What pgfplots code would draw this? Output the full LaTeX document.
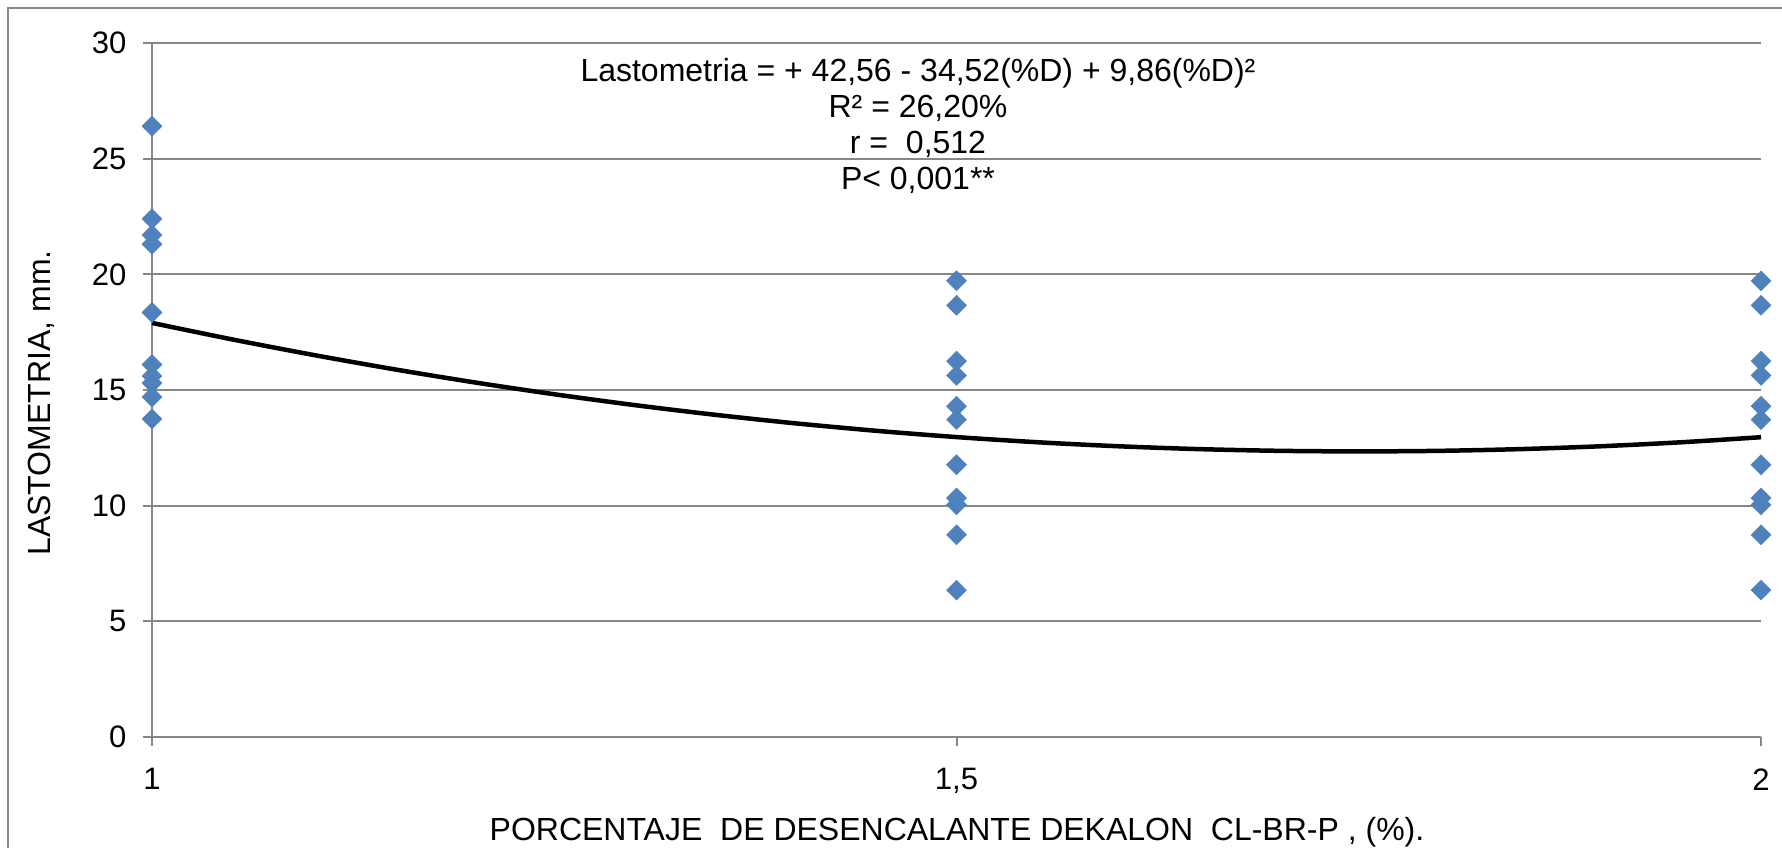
\documentclass[border=0pt]{standalone}
\usepackage{pgfplots}
\pgfplotsset{compat=1.18}
\usepackage{fontspec}
\setmainfont{Liberation Sans}
\definecolor{ptblue}{HTML}{4F81BD}
\definecolor{linegray}{HTML}{878787}

\begin{document}
\begin{tikzpicture}[x=1pt,y=1pt]
\path[use as bounding box] (0,0) rectangle (1782,847);
% chart area frame
\draw[linegray, line width=2pt] (8,-20) -- (8,839) -- (1800,839);
\begin{axis}[
  at={(152pt,110pt)}, anchor=south west,
  scale only axis, width=1609pt, height=694pt,
  xmin=1, xmax=2, ymin=0, ymax=30,
  xtick={1,1.5,2}, xticklabels={1,{1,5},2},
  ytick={0,5,...,30},
  axis x line*=bottom, axis y line*=left,
  axis line style={linegray, line width=2pt, -},
  ymajorgrids, major grid style={linegray, line width=2pt},
  tick style={linegray, line width=2pt},
  tick align=outside, major tick length=9pt,
  /pgf/number format/assume math mode=true,
  ticklabel style={font=\fontsize{31}{31}\selectfont, text=black},
  yticklabel style={xshift=-13pt},
  xticklabel style={yshift=-19pt},
  clip=false,
]
% measured points
\addplot[only marks, mark=square*, mark size=7.1pt,
  mark options={rotate=45, fill=ptblue, draw=ptblue}] coordinates {
  (1,26.4) (1,22.4) (1,21.7) (1,21.3) (1,18.35) (1,16.1) (1,15.6) (1,15.3) (1,14.7) (1,13.75)
  (1.5,19.72) (1.5,18.66) (1.5,16.25) (1.5,15.63) (1.5,14.30) (1.5,13.72) (1.5,11.77) (1.5,10.33) (1.5,10.04) (1.5,8.74) (1.5,6.35)
  (2,19.72) (2,18.66) (2,16.25) (2,15.63) (2,14.30) (2,13.72) (2,11.77) (2,10.33) (2,10.04) (2,8.74) (2,6.35)
};
% fitted quadratic: 42.56 - 34.52 x + 9.86 x^2
\addplot[black, line width=4.5pt, smooth] coordinates {
  (1.00,17.900) (1.05,17.185) (1.10,16.519) (1.15,15.902) (1.20,15.334)
  (1.25,14.816) (1.30,14.347) (1.35,13.928) (1.40,13.558) (1.45,13.237)
  (1.50,12.965) (1.55,12.743) (1.60,12.570) (1.65,12.446) (1.70,12.371)
  (1.75,12.346) (1.80,12.370) (1.85,12.444) (1.90,12.567) (1.95,12.739)
  (2.00,12.960)
};
\end{axis}
\begin{scope}[every node/.style={font=\fontsize{32}{32}\selectfont, inner sep=0pt}]
\node[anchor=base] at (918,765) {Lastometria = + 42,56 - 34,52(\%D) + 9,86(\%D)²};
\node[anchor=base] at (918,729) {R² = 26,20\%};
\node[anchor=base] at (918,693) {r = \ 0,512};
\node[anchor=base] at (918,657) {P< 0,001**};
\node[anchor=base] at (957,7) {PORCENTAJE \ DE DESENCALANTE DEKALON \ CL-BR-P , (\%).};
\node[anchor=base, rotate=90] at (50,444) {LASTOMETRIA, mm.};
\end{scope}
\end{tikzpicture}
\end{document}
